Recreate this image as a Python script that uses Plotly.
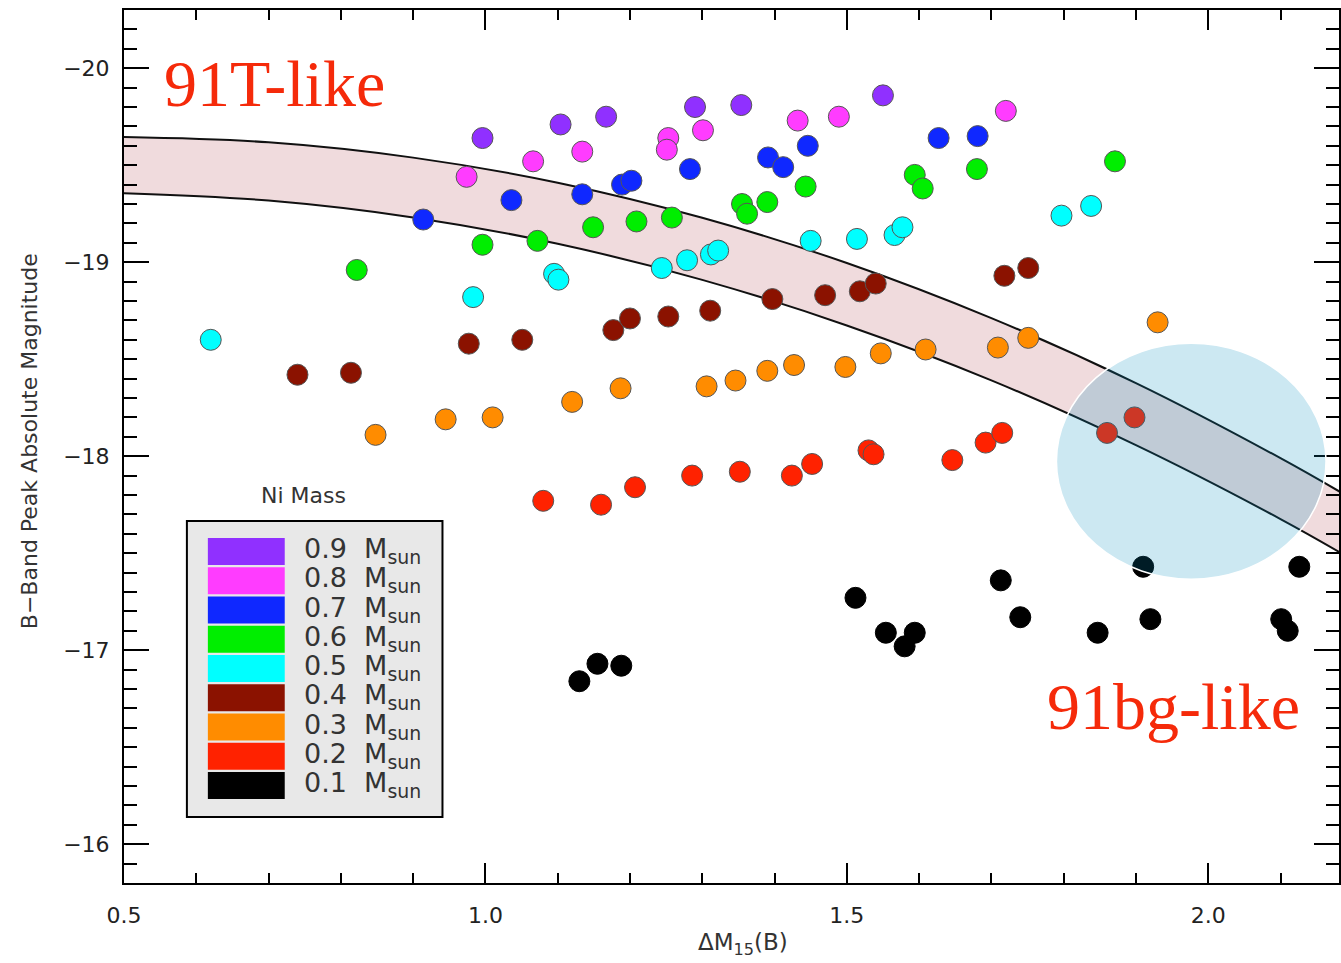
import plotly.graph_objects as go

# ---------------- data ----------------
CATEGORIES = ["0.9", "0.8", "0.7", "0.6", "0.5", "0.4", "0.3", "0.2", "0.1"]
COLORS = ["#9030FF", "#FF3CFF", "#0F28FF", "#00EE00", "#00FFFF",
          "#8B1200", "#FF8C00", "#FF2200", "#000000"]

X_09 = [0.996, 1.104, 1.167, 1.290, 1.354, 1.550]
Y_09 = [-19.64, -19.71, -19.75, -19.80, -19.81, -19.86]
X_08 = [0.974, 1.066, 1.134, 1.253, 1.251, 1.301, 1.432, 1.489, 1.720]
Y_08 = [-19.44, -19.52, -19.57, -19.64, -19.58, -19.68, -19.73, -19.75, -19.78]
X_07 = [0.914, 1.036, 1.134, 1.189, 1.202, 1.283, 1.391, 1.412, 1.446, 1.627, 1.681]
Y_07 = [-19.22, -19.32, -19.35, -19.40, -19.42, -19.48, -19.54, -19.49, -19.60, -19.64, -19.65]
X_06 = [0.822, 0.996, 1.072, 1.149, 1.209, 1.258, 1.355, 1.362, 1.390, 1.443, 1.594, 1.605, 1.680, 1.871]
Y_06 = [-18.96, -19.09, -19.11, -19.18, -19.21, -19.23, -19.30, -19.25, -19.31, -19.39, -19.45, -19.38, -19.48, -19.52]
X_05 = [0.620, 0.983, 1.095, 1.101, 1.244, 1.279, 1.312, 1.322, 1.450, 1.514, 1.566, 1.577, 1.797, 1.838]
Y_05 = [-18.60, -18.82, -18.94, -18.91, -18.97, -19.01, -19.04, -19.06, -19.11, -19.12, -19.14, -19.18, -19.24, -19.29]
X_04 = [0.740, 0.814, 0.977, 1.051, 1.177, 1.200, 1.253, 1.311, 1.397, 1.470, 1.518, 1.540, 1.718, 1.751]
Y_04 = [-18.42, -18.43, -18.58, -18.60, -18.65, -18.71, -18.72, -18.75, -18.81, -18.83, -18.85, -18.89, -18.93, -18.97]
X_03 = [0.848, 0.945, 1.010, 1.120, 1.187, 1.306, 1.346, 1.390, 1.427, 1.498, 1.547, 1.609, 1.709, 1.751, 1.930]
Y_03 = [-18.11, -18.19, -18.20, -18.28, -18.35, -18.36, -18.39, -18.44, -18.47, -18.46, -18.53, -18.55, -18.56, -18.61, -18.69]
X_02 = [1.080, 1.160, 1.207, 1.286, 1.352, 1.424, 1.452, 1.530, 1.537, 1.646, 1.692, 1.715, 1.860, 1.898]
Y_02 = [-17.77, -17.75, -17.84, -17.90, -17.92, -17.90, -17.96, -18.03, -18.01, -17.98, -18.07, -18.12, -18.12, -18.20]
X_01 = [1.130, 1.155, 1.188, 1.512, 1.554, 1.580, 1.594, 1.713, 1.740, 1.847, 1.910, 1.920, 2.101, 2.110, 2.126]
Y_01 = [-16.84, -16.93, -16.92, -17.27, -17.09, -17.02, -17.09, -17.36, -17.17, -17.09, -17.43, -17.16, -17.16, -17.10, -17.43]

SERIES_X = [X_09, X_08, X_07, X_06, X_05, X_04, X_03, X_02, X_01]
SERIES_Y = [Y_09, Y_08, Y_07, Y_06, Y_05, Y_04, Y_03, Y_02, Y_01]

BAND_X = [0.5, 0.7, 0.9, 1.1, 1.3, 1.5, 1.7, 1.9, 2.1, 2.2]
BAND_UPPER = [-19.645, -19.618, -19.539, -19.410, -19.229, -18.996, -18.712, -18.377, -17.990, -17.778]
BAND_LOWER = [-19.356, -19.318, -19.231, -19.095, -18.909, -18.674, -18.391, -18.057, -17.676, -17.466]

# highlighted 91bg region (centre and half-axes in data units)
REGION_CENTER = (1.9765, -17.974)
REGION_HALF = (0.1865, 0.608)

X_TICKS = [0.5, 1.0, 1.5, 2.0]
Y_TICKS = [-20, -19, -18, -17, -16]

# ---------------- figure ----------------
W, H = 1341, 963
ML, MR, MT, MB = 124, 0, 10, 80
PW, PH = W - ML - MR, H - MT - MB


def pxx(p):
    return (p - ML) / PW


def pxy(p):
    return (H - MB - p) / PH


fig = go.Figure()

# band
fig.add_trace(go.Scatter(x=BAND_X, y=BAND_LOWER, mode="lines",
                         line=dict(color="#111", width=2, shape="spline"),
                         hoverinfo="skip", showlegend=False))
fig.add_trace(go.Scatter(x=BAND_X, y=BAND_UPPER, mode="lines", fill="tonexty",
                         fillcolor="rgb(240,219,221)",
                         line=dict(color="#111", width=2, shape="spline"),
                         hoverinfo="skip", showlegend=False))

for cat, col, xs, ys in zip(CATEGORIES, COLORS, SERIES_X, SERIES_Y):
    fig.add_trace(go.Scatter(
        x=xs, y=ys, mode="markers", name=cat + " Msun",
        marker=dict(size=21, color=col,
                    line=dict(color="#555" if col != "#000000" else "#000", width=1)),
        showlegend=False))

shapes = []
# 91bg region circle
cx, cy = REGION_CENTER
rx, ry = REGION_HALF
shapes.append(dict(type="circle", xref="x", yref="y",
                   x0=cx - rx, x1=cx + rx, y0=cy - ry, y1=cy + ry,
                   fillcolor="rgba(0,140,190,0.2)",
                   line=dict(color="white", width=1.5), layer="above"))

# legend box
shapes.append(dict(type="rect", xref="paper", yref="paper",
                   x0=pxx(187), x1=pxx(443), y0=pxy(817), y1=pxy(521),
                   fillcolor="rgb(232,232,232)", line=dict(color="black", width=2),
                   layer="above"))
annotations = []
row_top0, row_step, row_h = 538, 29.25, 27
for i, (cat, col) in enumerate(zip(CATEGORIES, COLORS)):
    t = row_top0 + i * row_step
    shapes.append(dict(type="rect", xref="paper", yref="paper",
                       x0=pxx(208), x1=pxx(285), y0=pxy(t + row_h), y1=pxy(t),
                       fillcolor=col, line=dict(width=0), layer="above"))
    annotations.append(dict(xref="paper", yref="paper", x=pxx(302), y=pxy(t + row_h / 2 - 1),
                            xanchor="left", yanchor="middle", showarrow=False,
                            text=cat + "\u00a0\u00a0M<sub>sun</sub>",
                            font=dict(family="DejaVu Sans", size=27, color="#333")))

annotations.append(dict(xref="paper", yref="paper", x=pxx(304), y=pxy(495),
                        xanchor="center", yanchor="middle", showarrow=False,
                        text="Ni Mass", font=dict(family="DejaVu Sans", size=22, color="#333")))

annotations.append(dict(xref="paper", yref="paper", x=pxx(162), y=pxy(83),
                        xanchor="left", yanchor="middle", showarrow=False,
                        text="91T-like",
                        font=dict(family="Liberation Serif", size=66, color="#F52A0A")))
annotations.append(dict(xref="paper", yref="paper", x=pxx(1304), y=pxy(706),
                        xanchor="right", yanchor="middle", showarrow=False,
                        text="91bg-like",
                        font=dict(family="Liberation Serif", size=66, color="#F52A0A")))

annotations.append(dict(xref="paper", yref="paper", x=pxx(29), y=pxy(441),
                        xanchor="center", yanchor="middle", showarrow=False, textangle=-90,
                        text="B\u2212Band Peak Absolute Magnitude",
                        font=dict(family="DejaVu Sans", size=22, color="#333")))
annotations.append(dict(xref="paper", yref="paper", x=pxx(744), y=pxy(944),
                        xanchor="center", yanchor="middle", showarrow=False,
                        text="\u0394M<sub>15</sub>(B)",
                        font=dict(family="DejaVu Sans", size=23, color="#333")))

axis_common = dict(showline=True, linecolor="black", linewidth=2, mirror="ticks",
                   ticks="inside", tickcolor="black", tickwidth=2,
                   showgrid=False, zeroline=False,
                   tickfont=dict(family="DejaVu Sans", size=22, color="#222"))

fig.update_layout(
    width=W, height=H,
    margin=dict(l=ML, r=MR, t=MT, b=MB),
    paper_bgcolor="white", plot_bgcolor="white",
    xaxis=dict(range=[0.5, 0.5 + PW / 724.0], tickvals=X_TICKS,
               ticktext=[f"{v:.1f}" for v in X_TICKS], ticklen=20,
               ticklabelstandoff=12,
               minor=dict(dtick=0.1, tick0=0.5, ticklen=10, tickwidth=2,
                          ticks="inside", tickcolor="black", showgrid=False),
               **axis_common),
    yaxis=dict(range=[-15.8, -20.3], tickvals=Y_TICKS, ticklen=25,
               ticklabelstandoff=8,
               minor=dict(dtick=0.1, tick0=-20, ticklen=13, tickwidth=2,
                          ticks="inside", tickcolor="black", showgrid=False),
               **axis_common),
    shapes=shapes,
    annotations=annotations,
)

fig.write_html("out.html")
